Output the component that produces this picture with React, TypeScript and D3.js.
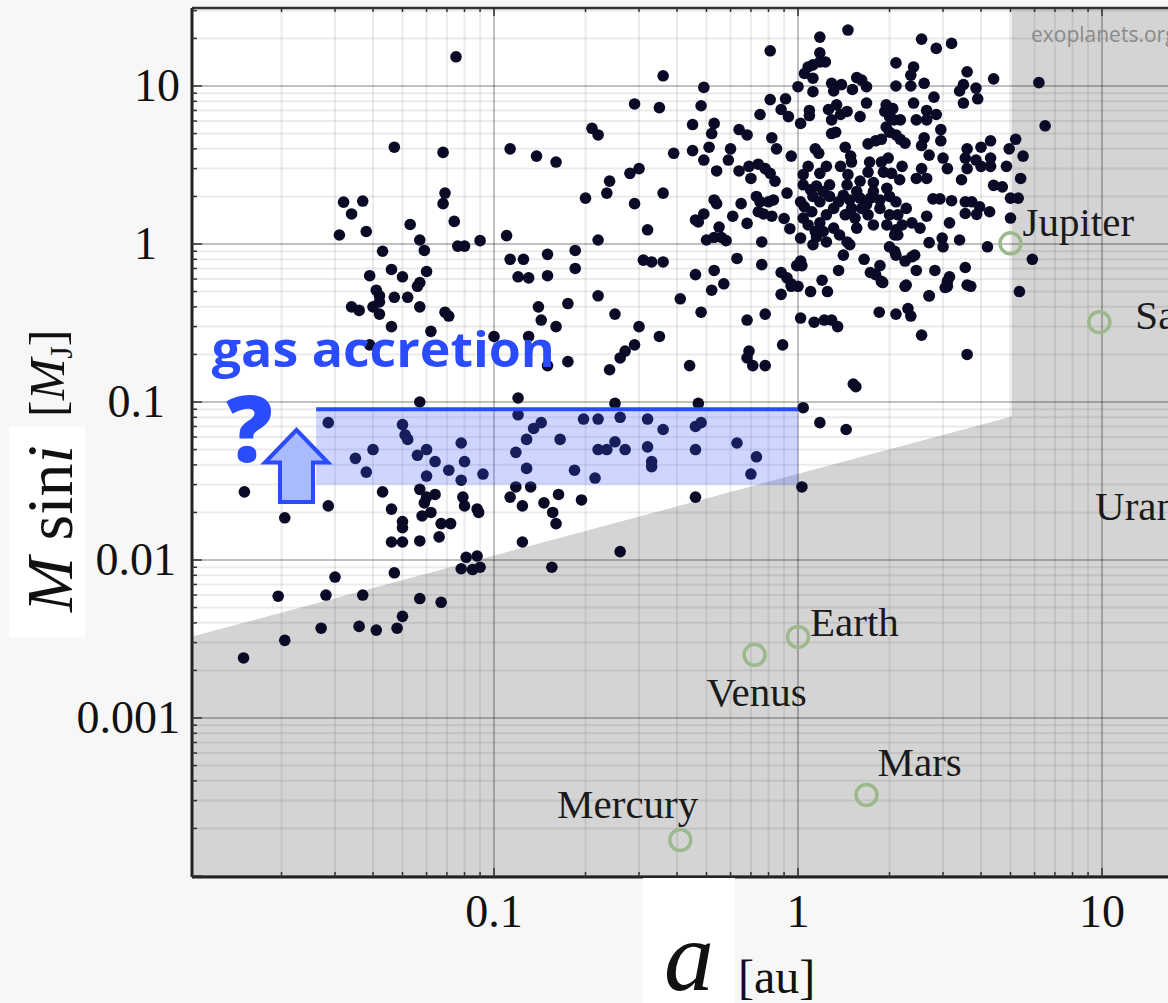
import React from 'react';
import * as d3 from 'd3';

const width = 1168;
const height = 1003;
const frame = { left: 192, top: 8, right: 1168, bottom: 877 };

// exoplanets: semi-major axis a [au], minimum mass M sin i [M_J]
const exoplanets: [number, number][] = [
  // short period, low mass
  [0.0151, 0.027], [0.0205, 0.0185], [0.0285, 0.074], [0.0285, 0.022], [0.0195, 0.0059], [0.028, 0.006],
  [0.03, 0.0078], [0.037, 0.006], [0.047, 0.0083], [0.057, 0.0057], [0.067, 0.0054], [0.05, 0.0044],
  [0.048, 0.0037], [0.041, 0.0036], [0.036, 0.0038], [0.027, 0.0037], [0.0205, 0.0031], [0.015, 0.0024],
  [0.043, 0.027], [0.057, 0.1], [0.05, 0.072], [0.051, 0.062], [0.052, 0.058], [0.04, 0.05], [0.035, 0.044],
  [0.038, 0.036], [0.056, 0.046], [0.06, 0.05], [0.064, 0.042], [0.071, 0.037], [0.06, 0.034], [0.078, 0.055],
  [0.08, 0.042], [0.078, 0.032], [0.092, 0.035], [0.057, 0.028], [0.064, 0.026], [0.06, 0.025], [0.059, 0.023],
  [0.062, 0.02], [0.058, 0.019], [0.046, 0.021], [0.05, 0.0175], [0.05, 0.016], [0.046, 0.013], [0.05, 0.013],
  [0.057, 0.0132], [0.066, 0.014], [0.067, 0.017], [0.072, 0.017], [0.079, 0.025], [0.08, 0.022], [0.088, 0.021],
  [0.089, 0.02], [0.081, 0.0104], [0.088, 0.0106], [0.078, 0.0088], [0.085, 0.0087], [0.09, 0.009],
  [0.12, 0.106], [0.12, 0.083], [0.143, 0.074], [0.135, 0.068], [0.128, 0.058], [0.118, 0.048], [0.128, 0.038],
  [0.118, 0.029], [0.132, 0.029], [0.113, 0.025], [0.124, 0.022], [0.146, 0.023], [0.156, 0.02], [0.16, 0.017],
  [0.163, 0.026], [0.124, 0.013], [0.155, 0.009], [0.165, 0.058], [0.194, 0.024], [0.184, 0.037], [0.197, 0.078],
  [0.22, 0.078], [0.26, 0.08], [0.32, 0.078], [0.36, 0.067], [0.25, 0.098], [0.22, 0.05], [0.235, 0.05],
  [0.25, 0.056], [0.27, 0.05], [0.215, 0.033], [0.32, 0.052], [0.33, 0.042], [0.33, 0.039], [0.26, 0.0113],
  [0.46, 0.025], [0.46, 0.05], [0.46, 0.07], [0.48, 0.074], [0.47, 0.098], [0.63, 0.055], [0.73, 0.045],
  [0.7, 0.035], [1.04, 0.092], [1.03, 0.029], [1.18, 0.074], [1.44, 0.067], [1.52, 0.13], [1.55, 0.125],
  // hot / warm giants at short period
  [0.032, 1.84], [0.037, 1.87], [0.034, 1.55], [0.038, 1.2], [0.031, 1.14], [0.069, 2.1], [0.068, 1.8],
  [0.074, 1.39], [0.053, 1.33], [0.057, 1.06], [0.059, 0.91], [0.076, 0.97], [0.08, 0.97], [0.09, 1.05],
  [0.11, 1.13], [0.043, 0.9], [0.113, 0.8], [0.125, 0.8], [0.15, 0.86], [0.15, 0.63], [0.12, 0.62], [0.13, 0.61],
  [0.046, 0.69], [0.05, 0.62], [0.06, 0.67], [0.039, 0.63], [0.057, 0.57], [0.056, 0.54], [0.041, 0.51],
  [0.042, 0.47], [0.042, 0.43], [0.047, 0.46], [0.052, 0.46], [0.034, 0.4], [0.036, 0.38], [0.04, 0.4],
  [0.042, 0.36], [0.057, 0.4], [0.069, 0.37], [0.071, 0.35], [0.046, 0.3], [0.062, 0.28], [0.1, 0.26],
  [0.13, 0.26], [0.14, 0.4], [0.143, 0.33], [0.16, 0.3], [0.15, 0.17], [0.039, 0.23], [0.175, 0.42],
  [0.175, 0.18], [0.075, 15.3], [0.047, 4.1], [0.068, 3.8], [0.113, 4.0], [0.138, 3.6], [0.16, 3.3],
  [0.185, 0.91], [0.185, 0.7],
  // 0.2 - 1 au
  [0.81, 16.7], [0.36, 11.6], [0.49, 9.8], [0.29, 7.7], [0.35, 7.3], [0.48, 7.5], [0.21, 5.4], [0.22, 4.9],
  [0.45, 5.7], [0.53, 5.8], [0.52, 5.0], [0.39, 3.75], [0.45, 3.9], [0.51, 4.1], [0.49, 3.4], [0.6, 4.0],
  [0.59, 3.4], [0.54, 2.9], [0.64, 5.3], [0.68, 4.9], [0.75, 6.6], [0.82, 4.7], [0.85, 4.0], [0.81, 8.2],
  [0.88, 7.1], [0.91, 8.3], [0.93, 6.4], [0.95, 3.6], [0.28, 2.8], [0.3, 3.0], [0.24, 2.5], [0.235, 2.1],
  [0.2, 1.95], [0.29, 1.8], [0.36, 2.1], [0.64, 2.9], [0.69, 3.1], [0.7, 2.6], [0.74, 3.2], [0.78, 3.0],
  [0.81, 2.8], [0.84, 2.5], [0.92, 2.1], [0.53, 1.9], [0.54, 1.8], [0.65, 1.8], [0.73, 2.0], [0.75, 1.85],
  [0.74, 1.6], [0.8, 1.85], [0.83, 1.9], [0.77, 1.55], [0.82, 1.5], [0.9, 1.45], [0.94, 1.25], [0.61, 1.5],
  [0.68, 1.35], [0.46, 1.42], [0.49, 1.55], [0.47, 1.38], [0.55, 1.28], [0.53, 1.1], [0.5, 1.06], [0.58, 1.05],
  [0.56, 1.1], [0.32, 1.23], [0.22, 1.06], [0.76, 1.03], [0.31, 0.79], [0.33, 0.77], [0.36, 0.77], [0.63, 0.81],
  [0.76, 0.74], [0.46, 0.64], [0.53, 0.68], [0.57, 0.56], [0.52, 0.51], [0.88, 0.66], [0.92, 0.61], [0.95, 0.56],
  [0.88, 0.48], [0.22, 0.47], [0.41, 0.45], [0.48, 0.37], [0.25, 0.36], [0.3, 0.3], [0.68, 0.33], [0.78, 0.36],
  [0.35, 0.26], [0.29, 0.23], [0.27, 0.21], [0.26, 0.19], [0.24, 0.16], [0.44, 0.17], [0.69, 0.21], [0.68, 0.19],
  [0.71, 0.17], [0.78, 0.17], [0.89, 0.23],
  // 1 - 6 au
  [0.95, 0.54], [1.0, 0.54], [1.1, 0.5], [1.25, 0.5], [1.02, 0.34], [1.13, 0.32], [1.22, 0.33], [1.29, 0.33],
  [1.35, 0.3], [1.85, 0.37], [2.1, 0.36], [2.3, 0.39], [2.35, 0.35], [2.55, 0.265], [2.7, 0.47], [3.1, 0.54],
  [3.7, 0.54], [2.25, 0.54], [1.9, 0.57], [3.6, 0.2], [5.35, 0.5],
  [1.18, 20.4], [1.46, 22.6], [2.55, 19.8], [2.85, 17.3], [3.2, 18.6], [1.18, 16.2], [1.12, 13.6], [1.18, 14.2],
  [1.23, 14.2], [1.08, 13.2], [1.05, 12], [1.12, 11.2], [1.0, 9.9], [1.12, 9.2], [1.29, 10.4], [1.31, 9.3],
  [1.39, 10.2], [1.51, 9.5], [1.56, 11.3], [1.62, 10.9], [1.68, 9.9], [2.1, 14], [2.1, 10], [2.4, 13.2],
  [2.35, 11.7], [2.35, 10], [2.6, 10.4], [3.6, 12.3], [4.4, 11.1], [6.2, 10.5], [6.5, 5.6], [3.5, 10.2],
  [3.4, 9.3], [3.5, 7.8], [3.85, 9.7], [3.9, 8.3], [1.09, 7.0], [1.09, 6.5], [1.02, 5.8], [1.26, 7.1],
  [1.29, 6.1], [1.34, 7.6], [1.38, 6.6], [1.45, 6.9], [1.33, 5.1], [1.29, 5.0], [1.6, 6.4], [1.68, 7.8],
  [1.95, 7.6], [2.05, 7.2], [2.0, 6.4], [1.93, 6.9], [2.07, 6.1], [2.17, 6.1], [1.95, 5.5], [2.0, 5.1],
  [2.1, 4.9], [2.17, 4.6], [2.25, 4.35], [2.4, 7.8], [2.65, 7.0], [2.8, 8.5], [2.85, 6.6], [2.95, 5.3],
  [2.45, 6.1], [2.65, 6.1], [2.6, 4.7], [2.55, 4.2], [2.95, 4.5], [1.7, 4.3], [1.8, 4.5], [1.88, 4.6],
  [1.43, 4.1], [1.49, 3.6], [1.14, 4.0], [1.17, 3.75], [3.6, 4.0], [4.0, 4.1], [4.3, 4.5], [3.55, 3.5],
  [3.85, 3.4], [4.3, 3.5], [4.95, 4.0], [5.2, 4.6], [5.5, 3.6], [3.0, 3.5], [2.7, 3.65], [1.72, 3.3],
  [1.88, 3.3], [1.98, 3.5], [2.2, 3.1], [2.55, 3.0], [1.08, 3.1], [1.24, 3.1], [1.38, 3.1], [1.5, 3.3],
  [4.85, 3.1], [3.1, 3.0], [3.6, 3.0], [4.0, 3.1], [4.3, 3.1],
  [1.04, 2.75], [1.18, 2.8], [1.46, 2.75], [1.6, 2.5], [1.7, 2.85], [1.77, 2.45], [1.91, 2.85], [2.03, 2.8],
  [2.16, 2.55], [2.45, 2.6], [2.65, 2.6], [3.45, 2.55], [4.4, 2.35], [4.7, 2.3], [5.4, 2.6], [5.0, 1.95],
  [5.3, 1.95], [1.04, 2.37], [1.1, 2.2], [1.15, 2.33], [1.21, 2.15], [1.12, 2.0], [1.18, 1.85], [1.05, 1.72],
  [1.11, 1.6], [1.04, 1.46], [1.08, 1.32], [1.14, 1.2], [1.18, 1.36], [1.24, 1.53], [1.31, 1.68], [1.36, 1.85],
  [1.27, 2.0], [1.41, 2.03], [1.48, 1.9], [1.6, 1.95], [1.73, 1.95], [1.86, 1.9], [2.0, 2.0], [2.1, 1.85],
  [1.62, 1.68], [1.5, 1.68], [1.43, 1.53], [1.54, 1.46], [1.7, 1.53], [1.86, 1.68], [2.0, 1.53], [2.13, 1.53],
  [2.27, 1.68], [2.2, 1.32], [2.37, 1.36], [2.52, 1.26], [1.31, 1.26], [1.37, 1.14], [1.24, 1.03], [1.15, 1.11],
  [1.12, 0.99], [2.78, 1.93], [2.93, 1.93], [3.2, 1.88], [3.55, 1.85], [3.73, 1.85], [3.96, 1.72], [4.27, 1.6],
  [3.55, 1.56], [3.87, 1.54], [3.15, 1.36], [2.65, 1.5], [2.1, 1.23], [2.08, 1.14], [2.13, 1.14], [5.0, 1.46],
  [4.2, 0.96], [2.7, 1.02], [2.98, 1.09], [3.0, 0.96], [3.4, 1.06], [2.0, 0.96], [2.08, 0.9], [2.1, 0.85],
  [2.25, 0.78], [2.37, 0.83], [2.42, 0.85], [2.45, 0.68], [1.48, 0.99], [1.41, 0.85], [1.36, 0.68], [1.65, 0.8],
  [1.86, 0.73], [1.73, 0.66], [1.8, 0.64], [1.88, 0.58], [2.82, 0.68], [3.1, 0.58], [3.15, 0.62], [3.55, 0.71],
  [3.6, 0.55], [3.05, 0.53], [2.7, 0.47], [2.27, 0.55], [1.02, 0.78], [0.99, 0.73], [1.03, 0.73], [1.2, 0.59],
  [5.9, 0.8],
  // densest part of the giant cluster
  [1.02, 1.85], [1.27, 2.37], [1.45, 2.37], [1.56, 2.15], [1.77, 2.15], [1.96, 2.25], [1.68, 1.78],
  [1.56, 1.26], [1.77, 1.32], [1.96, 1.32], [1.45, 1.03], [1.02, 1.09], [1.21, 1.2],
];

const planetNames = ['Mercury', 'Venus', 'Earth', 'Mars', 'Jupiter', 'Saturn', 'Uranus', 'Neptune'];
const planetA = [0.41, 0.72, 1.0, 1.68, 5.0, 9.8, 19.2, 30.1];
const planetM = [0.000169, 0.00251, 0.00326, 0.000326, 1.01, 0.32, 0.0457, 0.054];
// label placement relative to each circle
const planetLabelDx = [18, 2, 12, 11, 12, 36, -93, 12];
const planetLabelDy = [-22, 51, -1, -19, -7, 7, 64, -7];
const planetLabelAnchor = ['end', 'middle', 'start', 'start', 'start', 'start', 'start', 'start'];

const xTickValues = [0.1, 1, 10];
const xTickLabels = ['0.1', '1', '10'];
const yTickValues = [10, 1, 0.1, 0.01, 0.001];
const yTickLabels = ['10', '1', '0.1', '0.01', '0.001'];
const yTickLabelX = [180, 157, 165, 176, 180];

// RV detection limit (gray) and outer survey boundary
const limitA = [0.01, 5.05];
const limitM = [0.0033, 0.081];

// "gas accretion" band
const bandA = [0.026, 1.0];
const bandM = [0.03, 0.09];
const arrowA = 0.0224;
const arrowM = [0.0233, 0.0665];

const x = d3.scaleLog().domain([0.01, 10]).range([190, 1102]);
const y = d3.scaleLog().domain([1e-4, 10]).range([876, 86]);

const serif = '"Liberation Serif", "Times New Roman", serif';
const blue = '#2b4bff';

function logGrid(lo: number, hi: number) {
  const out: { v: number; major: boolean }[] = [];
  for (let e = lo; e <= hi; e++) {
    for (let k = 1; k <= 9; k++) out.push({ v: k * Math.pow(10, e), major: k === 1 });
  }
  return out;
}

export default function App() {
  const xGrid = logGrid(-2, 2).filter(d => x(d.v) >= frame.left && x(d.v) <= frame.right);
  const yGrid = logGrid(-4, 1).filter(d => y(d.v) >= frame.top && y(d.v) <= frame.bottom);

  const xl = frame.left;
  const limitPoly = [
    [xl, y(limitM[0]) + (x(limitA[0]) - xl) * ((y(limitM[1]) - y(limitM[0])) / (x(limitA[1]) - x(limitA[0])))],
    [x(limitA[1]), y(limitM[1])],
    [x(limitA[1]), frame.top],
    [frame.right, frame.top],
    [frame.right, frame.bottom],
    [xl, frame.bottom],
  ];

  const ax = x(arrowA);
  const aTop = y(arrowM[1]);
  const aBot = y(arrowM[0]);
  const arrowPath = `M${ax},${aTop} L${ax + 31.5},${aTop + 32.5} L${ax + 16.5},${aTop + 32.5} L${ax + 16.5},${aBot} L${ax - 16.5},${aBot} L${ax - 16.5},${aTop + 32.5} L${ax - 31.5},${aTop + 32.5} Z`;

  return (
    <svg width={width} height={height} style={{ position: 'absolute', left: 0, top: 0, display: 'block' }}>
      <defs>
        <clipPath id="plotClip">
          <rect x={frame.left} y={frame.top} width={frame.right - frame.left} height={frame.bottom - frame.top} />
        </clipPath>
      </defs>
      <rect width={width} height={height} fill="#f7f7f7" />
      <rect x={frame.left} y={frame.top} width={frame.right - frame.left} height={frame.bottom - frame.top} fill="#fff" />

      <g clipPath="url(#plotClip)">
        <polygon points={limitPoly.map(p => p.join(',')).join(' ')} fill="#d4d4d4" />
        {xGrid.map((d, i) => (
          <line key={'xg' + i} x1={x(d.v)} x2={x(d.v)} y1={frame.top} y2={frame.bottom}
            stroke={d.major ? 'rgba(0,0,0,0.33)' : 'rgba(0,0,0,0.08)'} strokeWidth={d.major ? 1.5 : 2} />
        ))}
        {yGrid.map((d, i) => (
          <line key={'yg' + i} y1={y(d.v)} y2={y(d.v)} x1={frame.left} x2={frame.right}
            stroke={d.major ? 'rgba(0,0,0,0.33)' : 'rgba(0,0,0,0.08)'} strokeWidth={d.major ? 1.5 : 2} />
        ))}
        <text x={1031} y={42} fontFamily='"Open Sans", sans-serif' fontSize={21} fill="#8a8a8a">exoplanets.org</text>

        {exoplanets.map((d, i) => (
          <circle key={'p' + i} cx={x(d[0])} cy={y(d[1])} r={5.8} fill="#0a0a26" />
        ))}

        <rect x={x(bandA[0])} y={y(bandM[1])} width={x(bandA[1]) - x(bandA[0])} height={y(bandM[0]) - y(bandM[1])}
          fill="rgba(60,90,255,0.25)" />
        <line x1={x(bandA[0])} x2={x(bandA[1])} y1={y(bandM[1])} y2={y(bandM[1])} stroke={blue} strokeWidth={4} />

        {planetNames.map((name, i) => {
          const cx = x(planetA[i]);
          const cy = y(planetM[i]);
          return (
            <g key={name}>
              <circle cx={cx} cy={cy} r={10.5} fill="none" stroke="#9cb98c" strokeWidth={3.5} />
              <text x={cx + planetLabelDx[i]} y={cy + planetLabelDy[i]} textAnchor={planetLabelAnchor[i] as any}
                fontFamily={serif} fontSize={41} fill="#1a1a1a">{name}</text>
            </g>
          );
        })}
      </g>

      {/* frame */}
      <line x1={frame.left} x2={frame.right} y1={frame.top} y2={frame.top} stroke="#333" strokeWidth={2.5} />
      <line x1={frame.left} x2={frame.right} y1={frame.bottom} y2={frame.bottom} stroke="#222" strokeWidth={3} />
      <line x1={frame.left} x2={frame.left} y1={frame.top} y2={frame.bottom} stroke="#222" strokeWidth={3} />
      {yGrid.map((d, i) => (
        <line key={'yt' + i} x1={frame.left} x2={frame.left + (d.major ? 10 : 5)} y1={y(d.v)} y2={y(d.v)}
          stroke="#333" strokeWidth={1.5} />
      ))}
      {xGrid.map((d, i) => (
        <g key={'xt' + i}>
          <line x1={x(d.v)} x2={x(d.v)} y1={frame.bottom} y2={frame.bottom - (d.major ? 9 : 5)} stroke="#333" strokeWidth={1.5} />
          <line x1={x(d.v)} x2={x(d.v)} y1={frame.top} y2={frame.top + (d.major ? 8 : 4)} stroke="#333" strokeWidth={1.5} />
        </g>
      ))}

      {yTickValues.map((v, i) => (
        <text key={'yl' + i} x={yTickLabelX[i]} y={y(v) + 15} textAnchor="end" fontFamily={serif} fontSize={46} fill="#111">
          {yTickLabels[i]}
        </text>
      ))}
      {xTickValues.map((v, i) => (
        <text key={'xl' + i} x={x(v)} y={927} textAnchor="middle" fontFamily={serif} fontSize={46} fill="#111">
          {xTickLabels[i]}
        </text>
      ))}

      {/* axis titles */}
      <rect x={9} y={427} width={76} height={210} fill="#fff" />
      <text transform="translate(72,612) rotate(-90)" fontFamily={serif} fontSize={66} fill="#111">
        <tspan fontStyle="italic">M</tspan>
        <tspan> sin</tspan>
        <tspan fontStyle="italic">i</tspan>
      </text>
      <text transform="translate(64,417) rotate(-90)" fontFamily={serif} fontSize={50} fill="#111">
        <tspan>[</tspan>
        <tspan fontStyle="italic">M</tspan>
        <tspan fontSize={32} dy={8}>J</tspan>
        <tspan dy={-8}>]</tspan>
      </text>

      <rect x={643} y={878} width={92} height={125} fill="#fff" />
      <text x={664} y={990} fontFamily={serif} fontStyle="italic" fontSize={100} fill="#111">a</text>
      <text x={738} y={993} fontFamily={serif} fontSize={48} fill="#111">[au]</text>

      {/* gas accretion annotation */}
      <text x={x(0.0118)} y={y(0.1667)} fontFamily='"Open Sans", sans-serif' fontWeight={700} fontSize={48}
        fill={blue} textLength={343} lengthAdjust="spacingAndGlyphs">gas accretion</text>
      <text x={x(0.0157)} y={y(0.0417)} textAnchor="middle" fontFamily='"Open Sans", sans-serif' fontWeight={800}
        fontSize={92} fill={blue}>?</text>
      <path d={arrowPath} fill="#aabaff" stroke={blue} strokeWidth={4} strokeLinejoin="miter" />
    </svg>
  );
}
